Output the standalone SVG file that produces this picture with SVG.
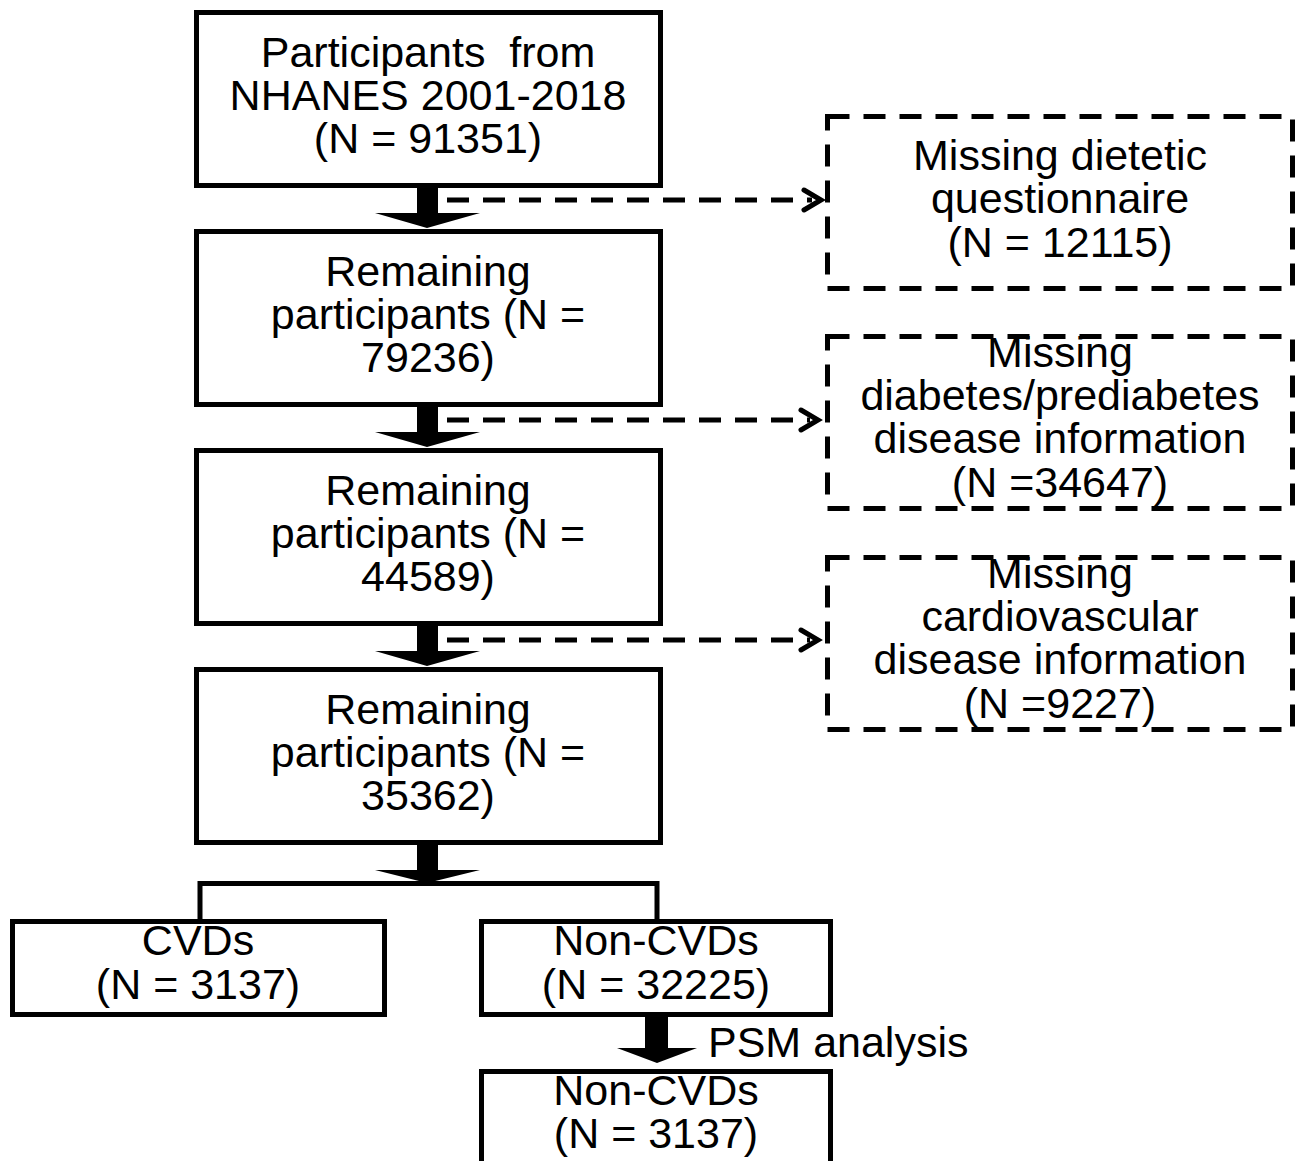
<svg xmlns="http://www.w3.org/2000/svg" width="1297" height="1161" viewBox="0 0 1297 1161">
<style>
.box{fill:#fff;stroke:#000;stroke-width:5}
.dbox{fill:#fff;stroke:#000;stroke-width:5;stroke-dasharray:22 14}
.dl{fill:none;stroke:#000;stroke-width:5;stroke-dasharray:22 14}
.chev{fill:none;stroke:#000;stroke-width:5;stroke-linecap:round;stroke-linejoin:miter}
.ln{fill:none;stroke:#000;stroke-width:5}
.ar{fill:#000;stroke:none}
text{font-family:"Liberation Sans",Arial,sans-serif;font-size:43px;fill:#000;text-anchor:middle}
</style>
<rect width="1297" height="1161" fill="#fff"/>
<g id="connectors">
  <path class="ar" d="M417,186 H438 V213 H480 L427,228 L375,213 H417 Z"/>
  <path class="ar" d="M417,405 H438 V432 H480 L427,447 L375,432 H417 Z"/>
  <path class="ar" d="M417,624 H438 V651 H480 L427,666 L375,651 H417 Z"/>
  <path class="ar" d="M417,843 H438 V870 H480 L427,883 L375,870 H417 Z"/>
  <path class="dl" d="M447,200 H812"/>
  <path class="chev" d="M804,190 L821,200 L804,210"/>
  <path class="dl" d="M447,420 H810"/>
  <path class="chev" d="M801,410 L818,420 L801,430"/>
  <path class="dl" d="M447,640 H810"/>
  <path class="chev" d="M801,630 L818,640 L801,650"/>
  <path class="ln" d="M200,921 V883.5 H657 V921"/>
  <path class="ar" d="M645,1016 H668 V1048 H697 L657,1063 L617,1048 H645 Z"/>
  <text x="708" y="1057" style="text-anchor:start">PSM analysis</text>
</g>
<g id="n1">
  <rect class="box" x="196.5" y="12.5" width="464" height="173"/>
  <text x="428" y="67">Participants&#160; from</text>
  <text x="428" y="110">NHANES 2001-2018</text>
  <text x="428" y="153">(N = 91351)</text>
</g>
<g id="n2">
  <rect class="box" x="196.5" y="231.5" width="464" height="173"/>
  <text x="428" y="286">Remaining</text>
  <text x="428" y="329">participants (N =</text>
  <text x="428" y="372">79236)</text>
</g>
<g id="n3">
  <rect class="box" x="196.5" y="450.5" width="464" height="173"/>
  <text x="428" y="505">Remaining</text>
  <text x="428" y="548">participants (N =</text>
  <text x="428" y="591">44589)</text>
</g>
<g id="n4">
  <rect class="box" x="196.5" y="669.5" width="464" height="173"/>
  <text x="428" y="724">Remaining</text>
  <text x="428" y="767">participants (N =</text>
  <text x="428" y="810">35362)</text>
</g>
<g id="e1">
  <rect class="dbox" x="827.5" y="116.5" width="465" height="172"/>
  <text x="1060" y="170">Missing dietetic</text>
  <text x="1060" y="213">questionnaire</text>
  <text x="1060" y="257">(N = 12115)</text>
</g>
<g id="e2">
  <rect class="dbox" x="827.5" y="336.5" width="465" height="172"/>
  <text x="1060" y="367">Missing</text>
  <text x="1060" y="410">diabetes/prediabetes</text>
  <text x="1060" y="453">disease information</text>
  <text x="1060" y="497">(N =34647)</text>
</g>
<g id="e3">
  <rect class="dbox" x="827.5" y="557.5" width="465" height="172"/>
  <text x="1060" y="588">Missing</text>
  <text x="1060" y="631">cardiovascular</text>
  <text x="1060" y="674">disease information</text>
  <text x="1060" y="718">(N =9227)</text>
</g>
<g id="cvd">
  <rect class="box" x="12.5" y="921.5" width="372" height="93"/>
  <text x="198" y="955">CVDs</text>
  <text x="198" y="999">(N = 3137)</text>
</g>
<g id="noncvd">
  <rect class="box" x="481.5" y="921.5" width="349" height="93"/>
  <text x="656" y="955">Non-CVDs</text>
  <text x="656" y="999">(N = 32225)</text>
</g>
<g id="noncvd2">
  <rect class="box" x="481.5" y="1071.5" width="349" height="100"/>
  <text x="656" y="1105">Non-CVDs</text>
  <text x="656" y="1148">(N = 3137)</text>
</g>
</svg>
